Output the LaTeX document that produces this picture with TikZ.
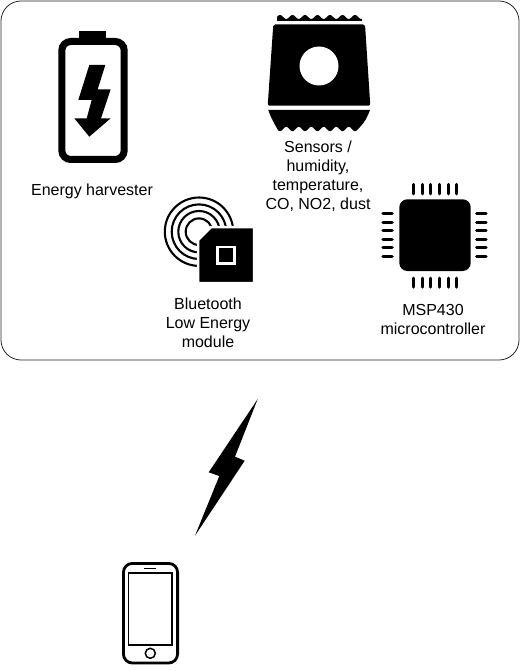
\documentclass[tikz,border=0pt]{standalone}
\usepackage{fontspec}
\setmainfont{Liberation Sans}
\usepackage{tikz}

\tikzset{
	solid black/.style={fill=black, draw=none},
	outline/.style={draw=black, fill=none},
	caption/.style={align=center, font=\fontsize{16}{19}\selectfont, inner sep=0pt},
	pin/.style={draw=black, line width=3.1, line cap=round},
}

\begin{document}
\begin{tikzpicture}[x=1pt, y=-1pt]
	\useasboundingbox (0,0) rectangle (520,671);
	\draw[draw=black!85, line width=0.8] (1,1) [rounded corners=20pt] rectangle (519,360);

	% battery
	\draw[outline, line width=7, rounded corners=9pt] (61.8,41.5) rectangle (124.2,159.5);
	\fill[solid black] (79,31) rectangle (106,39);
	\fill[solid black] (89.3,65) -- (105.3,65) -- (97.7,89.3) -- (110.7,89.3) -- (101,118.3) -- (110.7,118.3)
		-- (89.3,136.7) -- (74.3,118.3) -- (86.7,118.3) -- (91.7,100) -- (78.3,100) -- cycle;
	\node[caption] (harvester) at (92,191) {Energy harvester};

	% sensor bag
	\fill[solid black] (277,20.8)
		-- plot[domain=277:362, samples=86] (\x,{17-2*cos(28.8*(\x-280))})
		-- (362,20.8) -- cycle;
	\fill[solid black, rounded corners=2pt] (273.3,24.3) -- (365,24.3) -- (370.3,105.7) -- (267.7,105.7) -- cycle;
	\fill[white] (319,66) circle (19.5);
	\fill[solid black] (268.3,110) -- (370,110) .. controls (367,118) and (364,123) .. (360,127)
		-- plot[domain=360:278, samples=83] (\x,{129+2.2*cos(28.8*(\x-280))})
		.. controls (274,123) and (271,118) .. (268.3,110) -- cycle;
	\node[caption] (sensors) at (318,176.5) {Sensors /\\humidity,\\temperature,\\CO, NO2, dust};

	% bluetooth module
	\foreach \r in {13.3,20.7,27.3,34.2} {
		\draw[outline, line width=2.1] (199,231.7) circle (\r);
	}
	\draw[solid black, draw=white, line width=2.5] (198,240) -- (211,227) -- (254,227) -- (254,283) -- (198,283) -- cycle;
	\draw[draw=white, line width=2.6, fill=none] (217.3,247) rectangle (234.7,263.7);
	\node[caption] (ble) at (208,323) {Bluetooth\\Low Energy\\module};

	% microcontroller
	\fill[solid black, rounded corners=8pt] (399.3,199.3) rectangle (470.7,271);
	\foreach \i in {0,...,5} {
		\draw[pin] ({413.7+8.6*\i},184.5) -- ({413.7+8.6*\i},193.8);
		\draw[pin] ({413.7+8.6*\i},278.2) -- ({413.7+8.6*\i},287.2);
		\draw[pin] (383,{213.7+8.52*\i}) -- (392.2,{213.7+8.52*\i});
		\draw[pin] (476.6,{213.7+8.52*\i}) -- (486,{213.7+8.52*\i});
	}
	\node[caption] (mcu) at (433,319.5) {MSP430\\microcontroller};

	% radio link
	\fill[solid black] (257.7,399) -- (235,456.7) -- (244.7,460.7) -- (195,535.7) -- (219.3,476) -- (208.7,472.3) -- cycle;

	% phone
	\draw[outline, line width=2.8, rounded corners=9pt] (123.4,563.4) rectangle (177.6,663);
	\draw[outline, line width=1.7] (128.6,573.2) rectangle (171.8,645.2);
	\draw[outline, line width=1.3] (144.3,568.7) -- (156,568.7);
	\draw[outline, line width=1.5] (150.3,653.3) circle (5);
\end{tikzpicture}
\end{document}
